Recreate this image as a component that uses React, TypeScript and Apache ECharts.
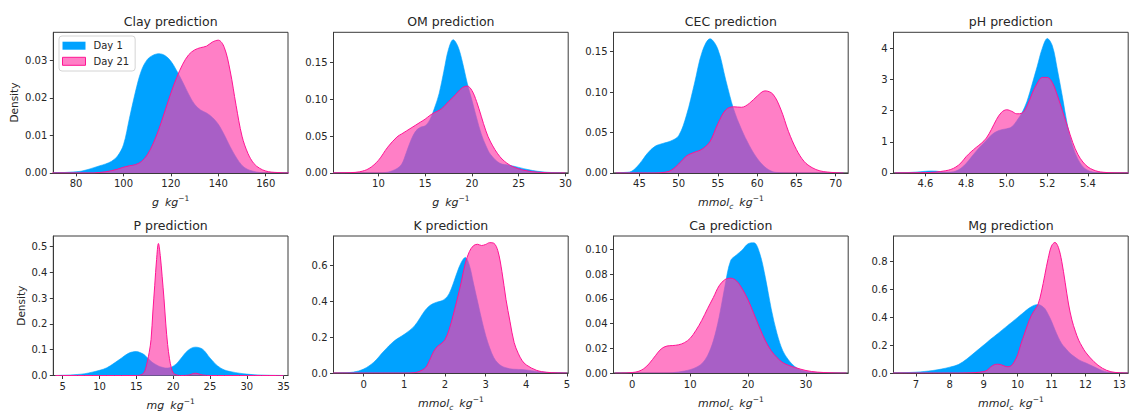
import React, { useEffect, useRef } from "react";
import * as echarts from "echarts";

// ---------------- DATA ----------------
const clayX = [70, 72.5, 75, 77.5, 80, 82.5, 85, 87.5, 90, 92.5, 95, 97.5, 100, 102.5, 105, 107.5, 110, 112.5, 115, 117.5, 120, 122.5, 125, 127.5, 130, 132.5, 135, 137.5, 140, 142.5, 145, 147.5, 150, 152.5, 155, 157.5, 160, 162.5, 165, 167.5, 170];
const clayDay1 = [0, 0.0001, 0.0001, 0.0002, 0.0003, 0.0005, 0.0009, 0.0014, 0.0019, 0.0024, 0.0031, 0.0045, 0.0075, 0.0145, 0.0215, 0.0272, 0.0302, 0.0314, 0.0318, 0.0313, 0.0298, 0.0272, 0.0242, 0.021, 0.0183, 0.0168, 0.016, 0.0148, 0.013, 0.0102, 0.007, 0.0042, 0.002, 0.0009, 0.0004, 0.0001, 0, 0, 0, 0, 0];
const clayDay21 = [0, 0, 0, 0, 0, 0, 0, 0, 0.0001, 0.0003, 0.0006, 0.001, 0.0015, 0.0019, 0.0022, 0.003, 0.0048, 0.0078, 0.0118, 0.0165, 0.0213, 0.0255, 0.029, 0.0315, 0.0328, 0.0334, 0.0338, 0.0349, 0.0354, 0.0335, 0.0272, 0.018, 0.0098, 0.0052, 0.0025, 0.0012, 0.0005, 0.0002, 0.0001, 0, 0];

const omX = [5, 6, 7, 8, 9, 10, 11, 12, 12.5, 13, 13.5, 14, 14.5, 15, 15.5, 16, 16.5, 17, 17.5, 18, 18.5, 19, 19.5, 20, 20.5, 21, 21.5, 22, 23, 24, 25, 26, 27, 28, 29, 30];
const omDay1 = [0, 0, 0, 0, 0, 0, 0.001, 0.006, 0.012, 0.028, 0.045, 0.057, 0.062, 0.064, 0.072, 0.088, 0.108, 0.138, 0.168, 0.181, 0.172, 0.15, 0.122, 0.099, 0.075, 0.053, 0.037, 0.025, 0.013, 0.0105, 0.0075, 0.0045, 0.0022, 0.0009, 0.0003, 0];
const omDay21 = [0, 0.0002, 0.0004, 0.0015, 0.006, 0.017, 0.035, 0.049, 0.053, 0.057, 0.061, 0.065, 0.069, 0.073, 0.078, 0.082, 0.085, 0.09, 0.097, 0.103, 0.11, 0.116, 0.118, 0.112, 0.097, 0.077, 0.057, 0.042, 0.022, 0.011, 0.0055, 0.0025, 0.001, 0.0003, 0, 0];

const cecX = [42, 43, 44, 45, 46, 47, 48, 49, 50, 51, 52, 53, 54, 55, 56, 57, 58, 59, 60, 61, 62, 63, 64, 65, 66, 67, 68, 69, 70, 71];
const cecDay1 = [0, 0.0005, 0.002, 0.011, 0.024, 0.033, 0.0365, 0.0395, 0.046, 0.0715, 0.11, 0.15, 0.166, 0.153, 0.115, 0.079, 0.054, 0.034, 0.018, 0.0072, 0.0015, 0.0003, 0, 0, 0, 0, 0, 0, 0, 0];
const cecDay21 = [0, 0, 0, 0, 0, 0, 0.0005, 0.003, 0.011, 0.021, 0.0255, 0.0295, 0.039, 0.061, 0.078, 0.0818, 0.0812, 0.086, 0.095, 0.1015, 0.0975, 0.079, 0.051, 0.029, 0.014, 0.0065, 0.0025, 0.001, 0.0003, 0];

const phX = [4.45, 4.475, 4.5, 4.525, 4.55, 4.575, 4.6, 4.625, 4.65, 4.675, 4.7, 4.725, 4.75, 4.775, 4.8, 4.825, 4.85, 4.875, 4.9, 4.925, 4.95, 4.975, 5.0, 5.025, 5.05, 5.075, 5.1, 5.125, 5.15, 5.175, 5.2, 5.225, 5.25, 5.275, 5.3, 5.325, 5.35, 5.375, 5.4, 5.425, 5.45, 5.475, 5.5, 5.525, 5.55, 5.575, 5.6];
const phDay1 = [0, 0.003, 0.008, 0.015, 0.025, 0.038, 0.052, 0.062, 0.058, 0.04, 0.022, 0.025, 0.06, 0.15, 0.3, 0.5, 0.7, 0.88, 1.05, 1.22, 1.33, 1.39, 1.42, 1.48, 1.68, 1.93, 2.3, 2.85, 3.42, 4.0, 4.32, 4.08, 3.3, 2.42, 1.5, 0.86, 0.45, 0.2, 0.08, 0.025, 0.008, 0.002, 0, 0, 0, 0, 0];
const phDay21 = [0, 0.001, 0.002, 0.004, 0.006, 0.008, 0.01, 0.015, 0.025, 0.045, 0.07, 0.11, 0.19, 0.32, 0.52, 0.68, 0.82, 0.95, 1.12, 1.4, 1.72, 1.95, 2.03, 1.98, 1.9, 1.92, 2.15, 2.55, 2.88, 3.07, 3.07, 2.9, 2.48, 1.98, 1.48, 0.98, 0.6, 0.35, 0.19, 0.1, 0.045, 0.02, 0.008, 0.003, 0.001, 0, 0];

const pX = [4, 5, 6, 7, 8, 9, 10, 11, 12, 13, 14, 15, 15.5, 16, 16.25, 16.5, 16.75, 17, 17.25, 17.5, 17.75, 18, 18.25, 18.5, 18.75, 19, 19.25, 19.5, 19.75, 20, 20.5, 21, 22, 23, 24, 25, 26, 27, 28, 29, 30, 31, 32, 33, 34, 35];
const pDay1 = [0, 0.001, 0.002, 0.004, 0.007, 0.013, 0.02, 0.03, 0.048, 0.068, 0.087, 0.093, 0.089, 0.082, 0.076, 0.069, 0.062, 0.055, 0.049, 0.045, 0.041, 0.037, 0.034, 0.032, 0.03, 0.029, 0.029, 0.03, 0.032, 0.036, 0.047, 0.064, 0.097, 0.11, 0.102, 0.068, 0.038, 0.021, 0.014, 0.009, 0.0055, 0.003, 0.0018, 0.001, 0.0005, 0.0002];
const pDay21 = [0, 0, 0, 0, 0, 0, 0, 0, 0, 0, 0, 0, 0.001, 0.01, 0.025, 0.055, 0.09, 0.14, 0.25, 0.35, 0.45, 0.512, 0.465, 0.385, 0.3, 0.2, 0.12, 0.065, 0.03, 0.01, 0.002, 0, 0.001, 0.009, 0.002, 0, 0, 0, 0, 0, 0, 0, 0, 0, 0, 0];

const kX = [-0.75, -0.5, -0.25, 0, 0.25, 0.5, 0.75, 1, 1.25, 1.5, 1.6, 1.7, 1.8, 1.9, 2, 2.1, 2.2, 2.3, 2.4, 2.5, 2.6, 2.7, 2.8, 2.9, 3, 3.1, 3.2, 3.3, 3.4, 3.5, 3.6, 3.7, 3.8, 3.9, 4, 4.25, 4.5, 4.75, 5];
const kDay1 = [0, 0.001, 0.005, 0.022, 0.06, 0.122, 0.178, 0.215, 0.262, 0.345, 0.37, 0.385, 0.394, 0.4, 0.412, 0.44, 0.495, 0.56, 0.615, 0.643, 0.6, 0.5, 0.4, 0.3, 0.21, 0.14, 0.086, 0.055, 0.038, 0.029, 0.023, 0.021, 0.02, 0.019, 0.017, 0.009, 0.003, 0.001, 0];
const kDay21 = [0, 0, 0, 0, 0, 0, 0, 0, 0.002, 0.025, 0.06, 0.11, 0.145, 0.162, 0.185, 0.24, 0.32, 0.41, 0.505, 0.61, 0.675, 0.708, 0.716, 0.709, 0.715, 0.725, 0.722, 0.68, 0.565, 0.41, 0.285, 0.17, 0.11, 0.068, 0.045, 0.015, 0.004, 0.001, 0];

const caX = [-3, -2, -1, 0, 1, 2, 3, 4, 5, 6, 7, 8, 9, 10, 11, 12, 13, 14, 15, 16, 17, 18, 19, 20, 21, 22, 23, 24, 25, 26, 27, 28, 29, 30, 31, 32, 33, 34, 35, 36, 37];
const caDay1 = [0, 0, 0, 0, 0, 0, 0, 0, 0, 0.0001, 0.0003, 0.0008, 0.0016, 0.0027, 0.0045, 0.0075, 0.014, 0.026, 0.045, 0.07, 0.091, 0.0955, 0.0995, 0.1045, 0.1053, 0.097, 0.077, 0.052, 0.032, 0.018, 0.0105, 0.0055, 0.0027, 0.0013, 0.0006, 0.0002, 0, 0, 0, 0, 0];
const caDay21 = [0, 0, 0.0001, 0.0004, 0.0012, 0.0035, 0.008, 0.014, 0.0195, 0.0218, 0.0222, 0.0228, 0.0245, 0.028, 0.0345, 0.0425, 0.052, 0.061, 0.0705, 0.0755, 0.0767, 0.0745, 0.068, 0.0592, 0.048, 0.0365, 0.026, 0.018, 0.0125, 0.0084, 0.0062, 0.0046, 0.0032, 0.002, 0.0012, 0.0007, 0.0004, 0.0002, 0.0001, 0, 0];

const mgX = [6.25, 6.5, 6.75, 7, 7.25, 7.5, 7.75, 8, 8.25, 8.5, 8.75, 9, 9.1, 9.2, 9.3, 9.4, 9.5, 9.6, 9.7, 9.8, 9.9, 10, 10.1, 10.2, 10.3, 10.4, 10.5, 10.6, 10.7, 10.8, 10.9, 11, 11.1, 11.2, 11.3, 11.4, 11.5, 11.6, 11.7, 11.8, 11.9, 12, 12.25, 12.5, 12.75, 13, 13.25];
const mgDay1 = [0, 0.001, 0.003, 0.006, 0.011, 0.018, 0.028, 0.042, 0.06, 0.1, 0.15, 0.2, 0.22, 0.241, 0.26, 0.279, 0.299, 0.319, 0.339, 0.358, 0.378, 0.398, 0.418, 0.438, 0.458, 0.474, 0.486, 0.49, 0.482, 0.462, 0.42, 0.37, 0.31, 0.255, 0.21, 0.18, 0.153, 0.13, 0.112, 0.095, 0.083, 0.073, 0.045, 0.017, 0.003, 0, 0];
const mgDay21 = [0, 0, 0, 0, 0, 0, 0, 0, 0, 0.001, 0.003, 0.01, 0.02, 0.042, 0.058, 0.063, 0.06, 0.051, 0.045, 0.05, 0.08, 0.13, 0.21, 0.28, 0.35, 0.41, 0.45, 0.49, 0.58, 0.7, 0.82, 0.91, 0.935, 0.9, 0.8, 0.65, 0.494, 0.38, 0.3, 0.235, 0.19, 0.15, 0.081, 0.034, 0.009, 0.002, 0];

// tick labels
const clayXTicks = [80, 100, 120, 140, 160];
const clayYTicks = [0, 0.01, 0.02, 0.03];
const omXTicks = [10, 15, 20, 25, 30];
const omYTicks = [0, 0.05, 0.1, 0.15];
const cecXTicks = [45, 50, 55, 60, 65, 70];
const cecYTicks = [0, 0.05, 0.1, 0.15];
const phXTicks = [4.6, 4.8, 5.0, 5.2, 5.4];
const phYTicks = [0, 1, 2, 3, 4];
const pXTicks = [5, 10, 15, 20, 25, 30, 35];
const pYTicks = [0, 0.1, 0.2, 0.3, 0.4, 0.5];
const kXTicks = [0, 1, 2, 3, 4, 5];
const kYTicks = [0, 0.2, 0.4, 0.6];
const caXTicks = [0, 10, 20, 30];
const caYTicks = [0, 0.02, 0.04, 0.06, 0.08, 0.1];
const mgXTicks = [7, 8, 9, 10, 11, 12, 13];
const mgYTicks = [0, 0.2, 0.4, 0.6, 0.8];

const titles = ["Clay prediction", "OM prediction", "CEC prediction", "pH prediction", "P prediction", "K prediction", "Ca prediction", "Mg prediction"];
const seriesNames = ["Day 1", "Day 21"];
const UNIT_G = "{i|g}{sp|}{i|kg}{sup|−1}";
const UNIT_MMOL = "{i|mmol}{sub|c}{sp|}{i|kg}{sup|−1}";
const UNIT_MG = "{i|mg}{sp|}{i|kg}{sup|−1}";

// ---------------- STYLE ----------------
const FONT = "'DejaVu Sans', sans-serif";
const FRAME = "#3a3a3a";
const TEXT = "#262626";
const BLUE = "#00a2ff";
const PINK = "#ff3ca8";
const PINK_ALPHA = 0.66;
const PINK_LINE = "#ff1493";

const panels = [
  { x: clayX, d1: clayDay1, d21: clayDay21, xMin: 70.4, xMax: 169.4, yMax: 0.0375, xt: clayXTicks, yt: clayYTicks, xDec: 0, yDec: 2, unit: UNIT_G },
  { x: omX, d1: omDay1, d21: omDay21, xMin: 5.2, xMax: 30.3, yMax: 0.191, xt: omXTicks, yt: omYTicks, xDec: 0, yDec: 2, unit: UNIT_G },
  { x: cecX, d1: cecDay1, d21: cecDay21, xMin: 41.7, xMax: 71.6, yMax: 0.174, xt: cecXTicks, yt: cecYTicks, xDec: 0, yDec: 2, unit: UNIT_MMOL },
  { x: phX, d1: phDay1, d21: phDay21, xMin: 4.443, xMax: 5.598, yMax: 4.52, xt: phXTicks, yt: phYTicks, xDec: 1, yDec: 0, unit: "" },
  { x: pX, d1: pDay1, d21: pDay21, xMin: 3.72, xMax: 35.6, yMax: 0.541, xt: pXTicks, yt: pYTicks, xDec: 0, yDec: 1, unit: UNIT_MG },
  { x: kX, d1: kDay1, d21: kDay21, xMin: -0.74, xMax: 5.03, yMax: 0.762, xt: kXTicks, yt: kYTicks, xDec: 0, yDec: 1, unit: UNIT_MMOL },
  { x: caX, d1: caDay1, d21: caDay21, xMin: -3.24, xMax: 37.3, yMax: 0.1108, xt: caXTicks, yt: caYTicks, xDec: 0, yDec: 2, unit: UNIT_MMOL },
  { x: mgX, d1: mgDay1, d21: mgDay21, xMin: 6.34, xMax: 13.26, yMax: 0.981, xt: mgXTicks, yt: mgYTicks, xDec: 0, yDec: 1, unit: UNIT_MMOL },
];

const LEFTS = [53.3, 333.5, 613.5, 893.5];
const TOPS = [32.3, 236];
const GW = 234.7;
const GH = 140.6;

function buildOption() {
  const grid: any[] = [];
  const xAxis: any[] = [];
  const yAxis: any[] = [];
  const series: any[] = [];
  const title: any[] = [];

  const richName = {
    i: { fontFamily: FONT, fontSize: 11, fontStyle: "italic", color: TEXT, lineHeight: 16, verticalAlign: "middle" },
    sp: { width: 6, lineHeight: 16, verticalAlign: "middle" },
    sup: { fontFamily: FONT, fontSize: 7.5, color: TEXT, lineHeight: 8, verticalAlign: "top" },
    sub: { fontFamily: FONT, fontSize: 7.5, fontStyle: "italic", color: TEXT, lineHeight: 10, verticalAlign: "bottom" },
  };

  panels.forEach((p, i) => {
    const col = i % 4;
    const row = Math.floor(i / 4);
    const left = LEFTS[col];
    const top = TOPS[row];
    grid.push({ left, top, width: GW, height: GH, show: true, borderColor: FRAME, borderWidth: 1, backgroundColor: "transparent", containLabel: false });
    title.push({
      text: titles[i],
      left: left + GW / 2,
      top: top - 17,
      textAlign: "center",
      padding: 0,
      textStyle: { fontFamily: FONT, fontSize: 12.5, fontWeight: "normal", color: TEXT },
    });
    xAxis.push({
      type: "value",
      gridIndex: i,
      min: p.xMin,
      max: p.xMax,
      axisLine: { show: true, onZero: false, lineStyle: { color: FRAME, width: 1 } },
      axisTick: { show: true, length: 3.5, inside: false, customValues: p.xt, lineStyle: { color: FRAME, width: 1 } },
      axisLabel: { customValues: p.xt, formatter: (v: number) => v.toFixed(p.xDec), fontFamily: FONT, fontSize: 10, color: TEXT, margin: 6 },
      splitLine: { show: false },
      name: p.unit,
      nameLocation: "middle",
      nameGap: 22,
      nameTextStyle: { fontFamily: FONT, fontSize: 11, color: TEXT, rich: richName },
    });
    yAxis.push({
      type: "value",
      gridIndex: i,
      min: 0,
      max: p.yMax,
      axisLine: { show: true, onZero: false, lineStyle: { color: FRAME, width: 1 } },
      axisTick: { show: true, length: 3.5, inside: false, customValues: p.yt, lineStyle: { color: FRAME, width: 1 } },
      axisLabel: { customValues: p.yt, formatter: (v: number) => v.toFixed(p.yDec), fontFamily: FONT, fontSize: 10, color: TEXT, margin: 6 },
      splitLine: { show: false },
      name: col === 0 ? "Density" : "",
      nameLocation: "middle",
      nameRotate: 90,
      nameGap: i === 0 ? 34 : 27,
      nameTextStyle: { fontFamily: FONT, fontSize: 10.5, color: TEXT },
    });
    series.push({
      type: "line",
      name: seriesNames[0],
      xAxisIndex: i,
      yAxisIndex: i,
      data: p.x.map((v, j) => [v, p.d1[j]]),
      smooth: 0.35,
      showSymbol: false,
      symbol: "none",
      silent: true,
      z: 2,
      itemStyle: { color: BLUE },
      lineStyle: { color: BLUE, width: 0.6 },
      areaStyle: { color: BLUE, opacity: 1 },
    });
    series.push({
      type: "line",
      name: seriesNames[1],
      xAxisIndex: i,
      yAxisIndex: i,
      data: p.x.map((v, j) => [v, p.d21[j]]),
      smooth: 0.35,
      showSymbol: false,
      symbol: "none",
      silent: true,
      z: 3,
      itemStyle: { color: PINK_LINE },
      lineStyle: { color: PINK_LINE, width: 1 },
      areaStyle: { color: PINK, opacity: PINK_ALPHA },
    });
  });

  return {
    animation: false,
    backgroundColor: "#ffffff",
    textStyle: { fontFamily: FONT },
    title,
    grid,
    xAxis,
    yAxis,
    series,
    legend: {
      left: 59,
      top: 36,
      orient: "vertical",
      selectedMode: false,
      icon: "rect",
      itemWidth: 23,
      itemHeight: 8,
      itemGap: 3.6,
      padding: [3.7, 6, 3.7, 3],
      borderColor: "#d4d4d4",
      borderWidth: 1,
      borderRadius: 3,
      backgroundColor: "rgba(255,255,255,0.8)",
      textStyle: { fontFamily: FONT, fontSize: 10, color: TEXT, lineHeight: 12, padding: [0, 0, 0, 3] },
      data: [
        { name: seriesNames[0], itemStyle: { color: BLUE, borderWidth: 0 } },
        { name: seriesNames[1], itemStyle: { color: "rgba(255,60,168,0.66)", borderColor: PINK_LINE, borderWidth: 1 } },
      ],
    },
  };
}

export default function App() {
  const ref = useRef<HTMLDivElement>(null);
  useEffect(() => {
    if (!ref.current) return;
    const chart = echarts.init(ref.current, undefined, { renderer: "svg" });
    chart.setOption(buildOption() as any);
    return () => chart.dispose();
  }, []);
  return (
    <div
      ref={ref}
      style={{ position: "fixed", left: 0, top: 0, width: 1130, height: 412, background: "#fff" }}
    />
  );
}
